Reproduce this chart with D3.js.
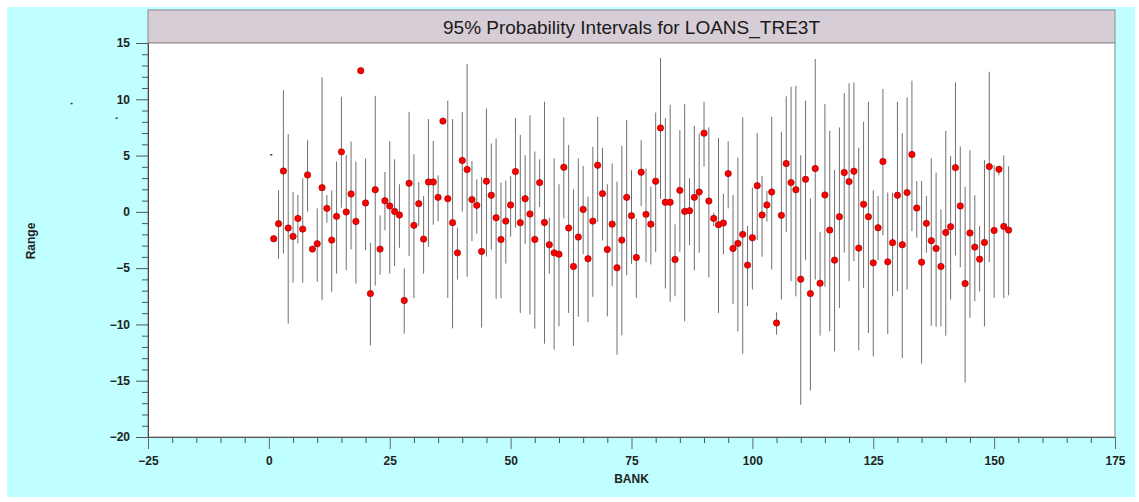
<!DOCTYPE html>
<html>
<head>
<meta charset="utf-8">
<script src="https://cdn.jsdelivr.net/npm/d3@7"></script>
<style>
  html, body { margin: 0; padding: 0; background: #ffffff; }
  svg { display: block; font-family: "Liberation Sans", Arial, sans-serif; }
</style>
</head>
<body>
<svg id="chart" width="1139" height="502"></svg>
<script>
// Bank identifiers
const banks = [
  1,2,3,4,5,6,7,8,9,10,11,12,13,14,15,16,17,18,19,20,
  21,22,23,24,25,26,27,28,29,30,31,32,33,34,35,36,37,38,39,40,
  41,42,43,44,45,46,47,48,49,50,51,52,53,54,55,56,57,58,59,60,
  61,62,63,64,65,66,67,68,69,70,71,72,73,74,75,76,77,78,79,80,
  81,82,83,84,85,86,87,88,89,90,91,92,93,94,95,96,97,98,99,100,
  101,102,103,104,105,106,107,108,109,110,111,112,113,114,115,116,117,118,119,120,
  121,122,123,124,125,126,127,128,129,130,131,132,133,134,135,136,137,138,139,140,
  141,142,143,144,145,146,147,148,149,150,151,152,153
];

// Point estimate per bank
const estimate = [
  -2.39,-1.05,3.63,-1.44,-2.18,-0.58,-1.53,3.28,-3.31,-2.83,
  2.15,0.31,-2.51,-0.40,5.33,-0.01,1.59,-0.85,12.54,0.79,
  -7.26,1.97,-3.31,0.99,0.52,0.04,-0.28,-7.88,2.54,-1.20,
  0.73,-2.42,2.65,2.65,1.29,8.06,1.17,-0.96,-3.64,4.56,
  3.76,1.09,0.58,-3.52,2.72,1.47,-0.52,-2.45,-0.82,0.61,
  3.58,-0.96,1.17,-0.19,-2.45,2.60,-0.94,-2.92,-3.64,-3.76,
  3.96,-1.44,-4.85,-2.24,0.22,-4.17,-0.82,4.14,1.62,-3.34,
  -1.09,-4.97,-2.51,1.29,-0.34,-4.05,3.52,-0.22,-1.09,2.72,
  7.46,0.85,0.85,-4.23,1.91,0.04,0.10,1.29,1.76,6.99,
  0.96,-0.58,-1.14,-0.99,3.40,-3.25,-2.80,-2.00,-4.73,-2.30,
  2.33,-0.28,0.61,1.76,-9.87,-0.31,4.29,2.60,1.97,-5.98,
  2.89,-7.26,3.85,-6.34,1.50,-1.62,-4.29,-0.43,3.49,2.69,
  3.61,-3.22,0.67,-0.43,-4.53,-1.41,4.47,-4.44,-2.74,1.47,
  -2.92,1.71,5.09,0.34,-4.47,-1.02,-2.56,-3.25,-4.85,-1.83,
  -1.32,3.93,0.52,-6.37,-1.88,-3.13,-4.20,-2.72,4.02,-1.65,
  3.78,-1.29,-1.62
];

// Upper bound of the 95% interval
const upper = [
  -2.39,1.91,10.82,6.90,1.76,1.50,2.98,6.37,-3.31,0.31,
  11.95,1.50,1.91,4.47,10.22,5.06,6.25,4.47,12.54,4.74,
  -2.74,10.31,-0.31,3.54,6.28,4.67,2.45,-5.03,8.89,5.12,
  2.65,1.41,8.24,6.30,3.25,8.06,9.87,8.24,-1.41,8.89,
  13.13,4.52,2.89,3.10,9.19,6.07,6.52,2.60,2.78,3.19,
  8.33,6.84,5.03,8.59,5.36,4.67,9.78,-0.52,4.76,2.45,
  8.39,5.95,2.00,4.76,4.08,1.35,5.77,8.44,5.68,2.45,
  4.32,2.69,5.86,8.15,3.70,-0.61,6.37,3.85,2.24,8.83,
  13.67,8.33,9.51,-1.11,7.26,9.57,2.98,7.64,6.96,9.78,
  7.50,-0.07,6.57,1.62,6.28,1.50,4.83,8.39,-1.26,2.15,
  6.99,3.19,1.85,8.44,-8.92,7.11,10.26,11.11,11.20,5.03,
  9.87,1.20,13.58,-1.80,9.57,7.20,3.72,7.50,10.55,11.42,
  11.50,5.71,8.00,9.78,1.91,1.41,10.91,1.71,1.71,9.78,
  6.99,10.17,11.65,2.74,2.74,1.41,4.76,3.49,0.22,7.20,
  4.97,11.50,5.80,2.24,5.48,1.47,-1.26,4.59,12.45,4.14,
  4.08,5.03,4.05
];

// Lower bound of the 95% interval
const lower = [
  -2.39,-4.17,-3.70,-9.93,-6.28,-2.80,-6.28,0.02,-3.31,-6.22,
  -7.85,-0.96,-7.10,-5.48,0.37,-5.18,-3.34,-6.37,12.54,-3.40,
  -11.86,-6.55,-5.60,-1.65,-5.48,-4.82,-3.19,-10.82,-3.93,-7.67,
  -1.26,-5.50,-3.10,-1.14,-0.82,8.06,-7.64,-10.35,-6.01,0.02,
  -5.77,-2.60,-1.94,-10.28,-3.96,-3.34,-7.73,-7.67,-4.59,-2.21,
  -1.41,-8.98,-2.87,-9.13,-10.37,0.43,-11.71,-5.50,-12.24,-10.17,
  -0.58,-8.98,-11.89,-9.33,-3.78,-9.81,-7.55,-0.87,-2.54,-9.28,
  -6.60,-12.69,-10.97,-5.63,-4.61,-7.64,0.52,-4.47,-4.67,-3.58,
  1.17,-6.81,-8.00,-7.50,-3.54,-9.72,-2.95,-5.21,-3.63,4.02,
  -5.81,-1.26,-8.98,-3.78,0.31,-8.18,-10.61,-12.60,-8.39,-6.90,
  -2.51,-3.99,-0.87,-5.12,-10.91,-7.79,-1.80,-6.16,-7.50,-17.14,
  -4.29,-15.87,-6.01,-11.00,-6.66,-10.61,-12.40,-8.53,-3.63,-6.16,
  -4.38,-12.30,-6.75,-10.76,-12.84,-4.29,-2.09,-10.85,-7.50,-7.05,
  -12.99,-6.90,-1.71,-2.30,-13.49,-3.63,-10.11,-10.22,-10.17,-11.00,
  -7.79,-3.87,-4.92,-15.16,-9.42,-7.94,-7.05,-10.17,-4.47,-7.64,
  3.25,-7.67,-7.41
];

// Small stray marks (bank, value)
const strayBank = [0.5, -40.8, -31.5];
const strayValue = [5.05, 9.6, 8.3];

// Axis ticks
const xMajorTicks = [-25, 0, 25, 50, 75, 100, 125, 150, 175];
const xMinorTicks = [-20,-15,-10,-5,5,10,15,20,30,35,40,45,55,60,65,70,80,85,90,95,105,110,115,120,130,135,140,145,155,160,165,170];
const yMajorTicks = [-20, -15, -10, -5, 0, 5, 10, 15];
const yMinorTicks = [-19,-18,-17,-16,-14,-13,-12,-11,-9,-8,-7,-6,-4,-3,-2,-1,1,2,3,4,6,7,8,9,11,12,13,14];

const titleText = "95% Probability Intervals for LOANS_TRE3T";
const xTitle = "BANK";
const yTitle = "Range";

const svg = d3.select("#chart");
const plot = { left: 148, right: 1115, top: 43, bottom: 437 };

// Outer panel
svg.append("rect")
  .attr("x", 7).attr("y", 7)
  .attr("width", 1128).attr("height", 490)
  .attr("fill", "#bfffff");

// Title banner
svg.append("rect")
  .attr("x", plot.left).attr("y", 10)
  .attr("width", plot.right - plot.left).attr("height", plot.top - 10)
  .attr("fill", "#d6cdd6")
  .attr("stroke", "#8a8a8a").attr("stroke-width", 1);

svg.append("text")
  .attr("x", (plot.left + plot.right) / 2)
  .attr("y", 34)
  .attr("text-anchor", "middle")
  .attr("font-size", 19)
  .attr("fill", "#1a1a1a")
  .text(titleText);

// Plot area
svg.append("rect")
  .attr("x", plot.left).attr("y", plot.top)
  .attr("width", plot.right - plot.left).attr("height", plot.bottom - plot.top)
  .attr("fill", "#ffffff")
  .attr("stroke", "#8a8a8a").attr("stroke-width", 1);

const x = d3.scaleLinear().domain([-25, 175]).range([plot.left, plot.right]);
const y = d3.scaleLinear().domain([-20, 15]).range([plot.bottom, plot.top]);

// Y axis: minor ticks, then major ticks with labels
svg.append("g")
  .attr("transform", `translate(${plot.left},0)`)
  .call(d3.axisLeft(y).tickValues(yMinorTicks).tickSize(6).tickSizeOuter(0).tickFormat(""))
  .call(g => g.select(".domain").remove())
  .call(g => g.selectAll("line").attr("stroke", "#555"));

svg.append("g")
  .attr("transform", `translate(${plot.left},0)`)
  .call(d3.axisLeft(y).tickValues(yMajorTicks).tickSize(12).tickSizeOuter(0).tickPadding(6).tickFormat(d3.format("d")))
  .call(g => g.select(".domain").attr("stroke", "#444"))
  .call(g => g.selectAll("line").attr("stroke", "#555"))
  .call(g => g.selectAll("text")
    .attr("font-family", "Liberation Sans, Arial, sans-serif")
    .attr("font-size", 12).attr("font-weight", "bold").attr("fill", "#222"));

// X axis: minor ticks, then major ticks with labels
svg.append("g")
  .attr("transform", `translate(0,${plot.bottom})`)
  .call(d3.axisBottom(x).tickValues(xMinorTicks).tickSize(6).tickSizeOuter(0).tickFormat(""))
  .call(g => g.select(".domain").remove())
  .call(g => g.selectAll("line").attr("stroke", "#555"));

svg.append("g")
  .attr("transform", `translate(0,${plot.bottom})`)
  .call(d3.axisBottom(x).tickValues(xMajorTicks).tickSize(12).tickSizeOuter(0).tickPadding(7).tickFormat(d3.format("d")))
  .call(g => g.select(".domain").attr("stroke", "#555"))
  .call(g => g.selectAll("line").attr("stroke", "#666"))
  .call(g => g.selectAll("text")
    .attr("font-family", "Liberation Sans, Arial, sans-serif")
    .attr("font-size", 12).attr("font-weight", "bold").attr("fill", "#222"));

// Axis titles
svg.append("text")
  .attr("x", (plot.left + plot.right) / 2)
  .attr("y", 483)
  .attr("text-anchor", "middle")
  .attr("font-size", 12).attr("font-weight", "bold").attr("fill", "#222")
  .text(xTitle);

svg.append("text")
  .attr("transform", `translate(35,241) rotate(-90)`)
  .attr("text-anchor", "middle")
  .attr("font-size", 12).attr("font-weight", "bold").attr("fill", "#222")
  .text(yTitle);

// Interval records
const rows = banks.map((b, i) => ({ bank: b, est: estimate[i], lo: lower[i], hi: upper[i] }));

// Interval whiskers
svg.append("g")
  .selectAll("line")
  .data(rows.filter(d => d.hi > d.lo))
  .join("line")
  .attr("x1", d => x(d.bank)).attr("x2", d => x(d.bank))
  .attr("y1", d => y(d.hi)).attr("y2", d => y(d.lo))
  .attr("stroke", "#707070")
  .attr("stroke-width", 1);

// Point estimates
svg.append("g")
  .selectAll("circle")
  .data(rows)
  .join("circle")
  .attr("cx", d => x(d.bank))
  .attr("cy", d => y(d.est))
  .attr("r", 3.2)
  .attr("fill", "#ff0000")
  .attr("stroke", "#8b0000")
  .attr("stroke-width", 0.6);

// Stray marks
svg.append("g")
  .selectAll("rect")
  .data(strayBank.map((b, i) => ({ b, v: strayValue[i] })))
  .join("rect")
  .attr("x", d => x(d.b) - 1).attr("y", d => y(d.v) - 1)
  .attr("width", 2).attr("height", 1.5)
  .attr("fill", "#333");
</script>
</body>
</html>
